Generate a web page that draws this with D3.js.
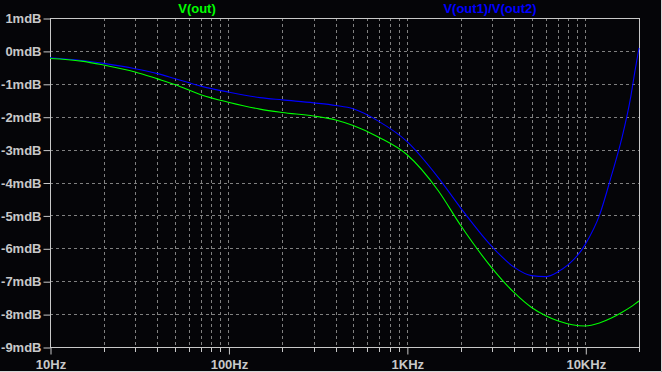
<!DOCTYPE html>
<html>
<head>
<meta charset="utf-8">
<script src="https://cdn.jsdelivr.net/npm/d3@7"></script>
<style>
  html, body { margin: 0; padding: 0; background: #050508; }
  svg { display: block; }
  text { font-family: "Liberation Sans", Arial, sans-serif; font-weight: bold; font-size: 13px; }
</style>
</head>
<body>
<div id="wrapper"></div>
<script>
// frequencies (Hz) and the two traces (mdB)
const freqs = [10, 15, 20, 30, 40, 50, 70, 100, 150, 200, 300, 400, 500, 700, 1000, 1500, 2000,
  3000, 4000, 5000, 6000, 7000, 10000, 12000, 14000, 16000, 18000, 19000, 20000];

const vOut = [-0.23, -0.31, -0.43, -0.64, -0.85, -1.02, -1.33, -1.56, -1.77, -1.87, -1.98, -2.1, -2.27, -2.63, -3.15, -4.25, -5.3,
  -6.6, -7.35, -7.8, -8.05, -8.2, -8.36, -8.27, -8.12, -7.95, -7.78, -7.69, -7.6];

const vRatio = [-0.21, -0.29, -0.38, -0.54, -0.69, -0.84, -1.07, -1.25, -1.42, -1.49, -1.58, -1.66, -1.76, -2.15, -2.75, -3.85, -4.77,
  -5.95, -6.58, -6.83, -6.86, -6.72, -5.88, -5.0, -3.8, -2.67, -1.38, -0.6, 0.09];

const yTicks = [1, 0, -1, -2, -3, -4, -5, -6, -7, -8, -9];
const xMajor = [10, 100, 1000, 10000];
const xLabels = ["10Hz", "100Hz", "1KHz", "10KHz"];

const width = 662;
const height = 372;
const margin = { top: 18, bottom: 25, left: 50, right: 23 };

const svg = d3.select("#wrapper")
  .append("svg")
  .attr("width", width)
  .attr("height", height);

svg.append("rect")
  .attr("width", width)
  .attr("height", height)
  .attr("fill", "#050508");

// window edge on right and bottom
svg.append("path")
  .attr("d", `M${width - 0.5},0V${height - 0.5}H0`)
  .attr("stroke", "#d8d8d8")
  .attr("fill", "none");

const x = d3.scaleLog()
  .domain([10, 20000])
  .range([margin.left, width - margin.right]);

const y = d3.scaleLinear()
  .domain([-9, 1])
  .range([height - margin.bottom, margin.top]);

// minor + major frequency lines
const xGrid = [];
for (let dec = 10; dec <= 10000; dec *= 10) {
  for (let m = 1; m <= 9; m++) {
    const f = dec * m;
    if (f > 10 && f < 20000) xGrid.push(f);
  }
}

svg.append("g")
  .selectAll("line")
  .data(xGrid)
  .join("line")
    .attr("x1", d => Math.round(x(d)) + 0.5)
    .attr("x2", d => Math.round(x(d)) + 0.5)
    .attr("y1", y(1))
    .attr("y2", y(-9))
    .attr("stroke", "#808080")
    .attr("stroke-dasharray", "3,3");

svg.append("g")
  .selectAll("line")
  .data(yTicks.filter(d => d < 1 && d > -9))
  .join("line")
    .attr("x1", x(10))
    .attr("x2", x(20000))
    .attr("y1", d => Math.round(y(d)) + 0.5)
    .attr("y2", d => Math.round(y(d)) + 0.5)
    .attr("stroke", "#808080")
    .attr("stroke-dasharray", "3,3");

// frame
svg.append("rect")
  .attr("x", Math.round(x(10)) + 0.5)
  .attr("y", Math.round(y(1)) + 0.5)
  .attr("width", Math.round(x(20000)) - Math.round(x(10)))
  .attr("height", Math.round(y(-9)) - Math.round(y(1)))
  .attr("fill", "none")
  .attr("stroke", "#c8c8c8");

// y axis ticks + labels
const yAxis = svg.append("g").attr("transform", `translate(${Math.round(x(10)) + 0.5},0.5)`)
  .call(d3.axisLeft(y).tickValues(yTicks).tickSize(7).tickPadding(2).tickFormat(d => d + "mdB"));
yAxis.select(".domain").remove();
yAxis.selectAll("line").attr("stroke", "#c8c8c8");
yAxis.selectAll("text").attr("fill", "#c8c8c8").attr("font-size", 13).attr("font-family", null);

// x axis: minor ticks then majors with labels
svg.append("g")
  .selectAll("line")
  .data(xGrid.concat([20000]).filter(d => xMajor.indexOf(d) < 0))
  .join("line")
    .attr("x1", d => Math.round(x(d)) + 0.5)
    .attr("x2", d => Math.round(x(d)) + 0.5)
    .attr("y1", Math.round(y(-9)))
    .attr("y2", Math.round(y(-9)) + 5)
    .attr("stroke", "#c8c8c8");

const xAxis = svg.append("g").attr("transform", `translate(0.5,${Math.round(y(-9)) + 0.5})`)
  .call(d3.axisBottom(x).tickValues(xMajor).tickSize(7).tickPadding(5).tickFormat((d, i) => xLabels[i]));
xAxis.select(".domain").remove();
xAxis.selectAll("line").attr("stroke", "#c8c8c8");
xAxis.selectAll("text").attr("fill", "#c8c8c8").attr("font-size", 13).attr("font-family", null);

// traces
const line = (vals) => d3.line()
  .x((d, i) => x(freqs[i]))
  .y(d => y(d))
  .curve(d3.curveMonotoneX)(vals);

svg.append("path")
  .attr("d", line(vRatio))
  .attr("fill", "none")
  .attr("stroke", "#0000ff")
  .attr("stroke-width", 1.1);

svg.append("path")
  .attr("d", line(vOut))
  .attr("fill", "none")
  .attr("stroke", "#00ff00")
  .attr("stroke-width", 1.1);

// trace names
svg.append("text").attr("x", 197).attr("y", 13).attr("text-anchor", "middle")
  .attr("fill", "#00ff00").text("V(out)");
svg.append("text").attr("x", 490).attr("y", 13).attr("text-anchor", "middle")
  .attr("fill", "#0000ff").text("V(out1)/V(out2)");
</script>
</body>
</html>
